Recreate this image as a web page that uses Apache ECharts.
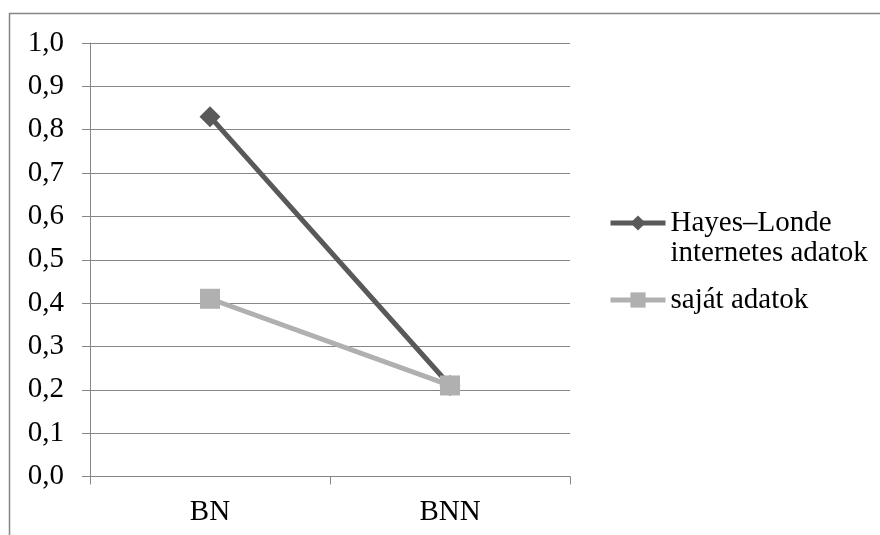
<!DOCTYPE html>
<html>
<head>
<meta charset="utf-8">
<script src="https://cdn.jsdelivr.net/npm/echarts@6/dist/echarts.min.js"></script>
<style>
    html, body { margin: 0; padding: 0; background: #fff; }
    #chart { width: 880px; height: 535px; }
</style>
</head>
<body>
<div id="chart"></div>
<script>
    // 数据
    var categories = ['BN', 'BNN'];
    var hayesValues = [0.83, 0.21];
    var sajatValues = [0.41, 0.21];
    var seriesNames = ['Hayes–Londe internetes adatok', 'saját adatok'];

    var font = 'Liberation Serif';
    var gray = '#868686';
    var fontSize = 29;

    var chart = echarts.init(document.getElementById('chart'));
    var legendText = {
        fontFamily: font,
        fontSize: fontSize,
        lineHeight: 30,
        color: '#000'
    };
    var option = {
        animation: false,
        textStyle: { fontFamily: font },
        graphic: [{
            type: 'rect',
            shape: { x: 9.5, y: 13.5, width: 1000, height: 700 },
            style: { fill: 'none', stroke: gray, lineWidth: 1.5 }
        }],
        grid: {
            left: 90,
            right: 310,
            top: 43,
            bottom: 58.5
        },
        // 图例分两个，第一个是两行文字（前面加空行让第一行和图标对齐）
        legend: [{
            data: [seriesNames[0]],
            left: 608,
            top: 178,
            padding: 0,
            itemWidth: 55,
            itemHeight: 19,
            lineStyle: { width: 5 },
            formatter: function () {
                return '\nHayes–Londe\ninternetes adatok';
            },
            textStyle: legendText
        }, {
            data: [seriesNames[1]],
            left: 608,
            top: 285,
            padding: 0,
            itemWidth: 55,
            itemHeight: 19,
            lineStyle: { width: 5 },
            textStyle: legendText
        }],
        xAxis: {
            type: 'category',
            data: categories,
            boundaryGap: true,
            axisLine: { lineStyle: { color: gray, width: 1 } },
            axisTick: { show: true, length: 8, lineStyle: { color: gray } },
            axisLabel: {
                color: '#000',
                fontFamily: font,
                fontSize: fontSize,
                margin: 21
            },
            splitLine: { show: false }
        },
        yAxis: {
            type: 'value',
            min: 0,
            max: 1,
            interval: 0.1,
            axisLine: { show: true, lineStyle: { color: gray, width: 1 } },
            axisTick: { show: true, length: 8, lineStyle: { color: gray } },
            axisLabel: {
                color: '#000',
                fontFamily: font,
                fontSize: fontSize,
                margin: 26,
                formatter: function (v) {
                    return v.toFixed(1).replace('.', ',');
                }
            },
            splitLine: { show: true, lineStyle: { color: gray, width: 1 } }
        },
        series: [{
            name: seriesNames[0],
            type: 'line',
            data: hayesValues,
            symbol: 'diamond',
            symbolSize: 21,
            lineStyle: { color: '#595959', width: 5 },
            itemStyle: { color: '#595959' },
            z: 2
        }, {
            name: seriesNames[1],
            type: 'line',
            data: sajatValues,
            symbol: 'rect',
            symbolSize: 20,
            lineStyle: { color: '#b0b0b0', width: 5 },
            itemStyle: { color: '#b0b0b0' },
            z: 3
        }]
    };
    chart.setOption(option);
</script>
</body>
</html>
